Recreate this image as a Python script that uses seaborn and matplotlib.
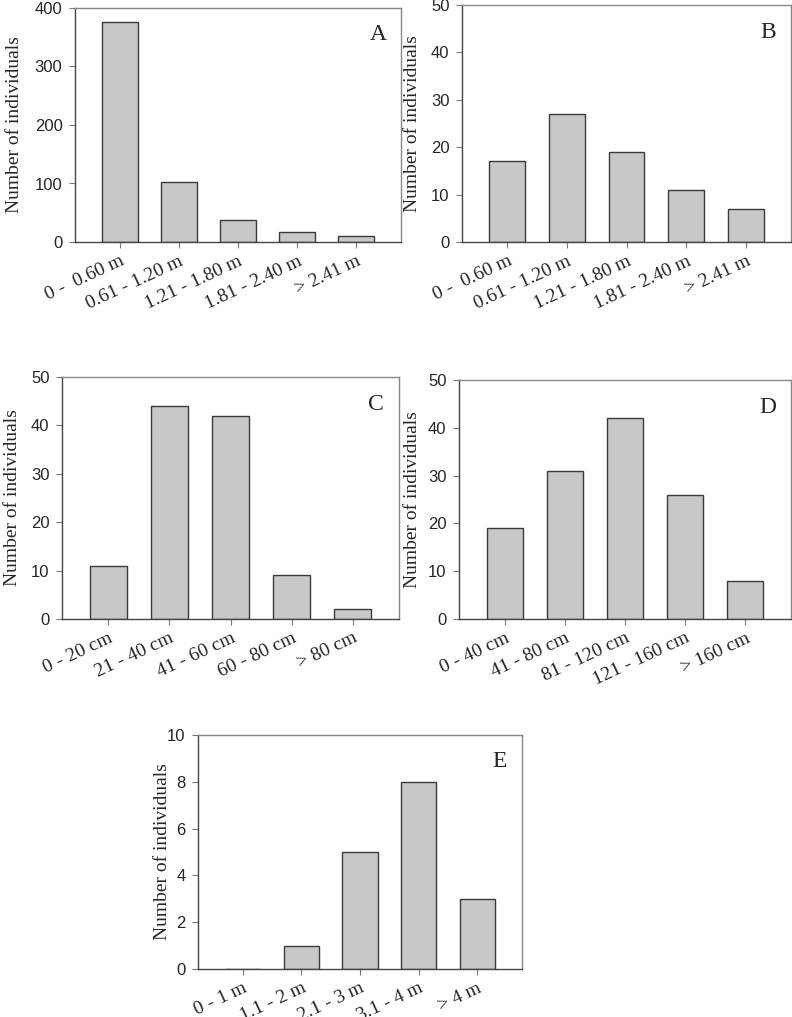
import matplotlib
matplotlib.use("Agg")
import matplotlib.pyplot as plt
import pandas as pd
import seaborn as sns

sns.set_style("white")
plt.rcParams["font.family"] = ["Liberation Sans", "DejaVu Sans"]

# data
height_cls = ["0 -  0.60 m", "0.61 - 1.20 m", "1.21 - 1.80 m", "1.81 - 2.40 m", "> 2.41 m"]
a_counts = [376, 102, 38, 17, 11]
b_counts = [17, 27, 19, 11, 7]
c_cls = ["0 - 20 cm", "21 - 40 cm", "41 - 60 cm", "60 - 80 cm", "> 80 cm"]
c_counts = [11, 44, 42, 9, 2]
d_cls = ["0 - 40 cm", "41 - 80 cm", "81 - 120 cm", "121 - 160 cm", "> 160 cm"]
d_counts = [19, 31, 42, 26, 8]
e_cls = ["0 - 1 m", "1.1 - 2 m", "2.1 - 3 m", "3.1 - 4 m", "> 4 m"]
e_counts = [0, 1, 5, 8, 3]

W, H = 792, 1017
fig = plt.figure(figsize=(W / 100, H / 100), dpi=100)
serif = ["Liberation Serif", "DejaVu Serif"]

# left, top, right, bottom (pixels), y max, y step, letter, ylabel right edge (pixels)
panels = [
    (height_cls, a_counts, "A", (75, 8, 401, 242), 400, 100, 23),
    (height_cls, b_counts, "B", (462, 5, 791, 242), 50, 10, 421),
    (c_cls, c_counts, "C", (62, 377, 399, 619), 50, 10, 21),
    (d_cls, d_counts, "D", (459, 380, 791, 619), 50, 10, 421),
    (e_cls, e_counts, "E", (198, 735, 522, 969), 10, 2, 171),
]

for cats, vals, letter, (l, t, r, b), ymax, step, lx in panels:
    ax = fig.add_axes([l / W, 1 - b / H, (r - l) / W, (b - t) / H])
    df = pd.DataFrame({"cls": cats, "n": vals})
    sns.barplot(data=df, x="cls", y="n", color="#c8c8c8", edgecolor="#3a3a3a",
                linewidth=1.0, width=0.6, saturation=1, ax=ax)
    ax.set_xlim(-0.76, 4.76)
    ax.set_ylim(0, ymax)
    ax.set_yticks(range(0, ymax + 1, step))
    ax.set_xlabel("")
    ax.set_ylabel("Number of individuals", family=serif, fontsize=14)
    ax.yaxis.set_label_coords((lx - l) / (r - l), 0.5)
    ax.tick_params(axis="both", direction="out", length=4, width=0.8, color="#777777",
                   left=True, bottom=True)
    ax.tick_params(axis="y", labelsize=12, pad=5)
    ax.set_xticks(range(len(cats)))
    ax.set_xticklabels(cats, rotation=25, ha="right", va="top", rotation_mode="anchor",
                       family=serif, fontsize=14)
    for side in ["left", "bottom"]:
        ax.spines[side].set_color("#444444")
        ax.spines[side].set_linewidth(1.0)
    for side in ["top", "right"]:
        ax.spines[side].set_color("#888888")
        ax.spines[side].set_linewidth(1.0)
    ax.text(0.93, 0.885, letter, transform=ax.transAxes, ha="center", va="center",
            family=serif, fontsize=17)

fig.savefig("out.png", dpi=100)
